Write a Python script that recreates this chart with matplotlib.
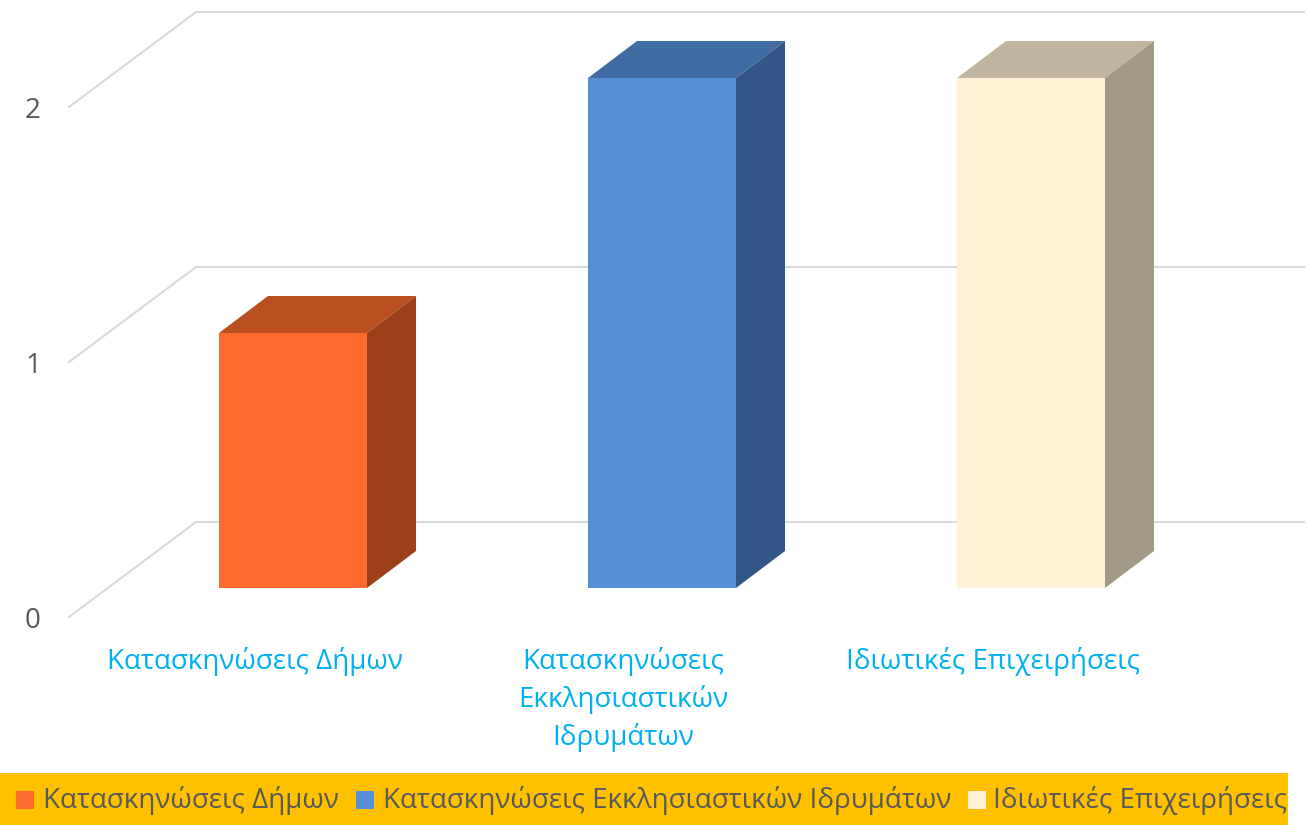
import matplotlib
matplotlib.use('Agg')
import matplotlib.pyplot as plt
from matplotlib.patches import Rectangle, Polygon

plt.rcParams['font.family'] = ['Open Sans', 'DejaVu Sans']

# data
categories = ['Κατασκηνώσεις Δήμων', 'Κατασκηνώσεις Εκκλησιαστικών Ιδρυμάτων', 'Ιδιωτικές Επιχειρήσεις']
axis_labels = ['Κατασκηνώσεις Δήμων', 'Κατασκηνώσεις\nΕκκλησιαστικών\nΙδρυμάτων', 'Ιδιωτικές Επιχειρήσεις']
values = [1, 2, 2]
y_ticks = [0, 1, 2]

# front, top, side colours of each bar
front_colors = ['#FD6A2E', '#578ED8', '#FFF0D6']
top_colors = ['#BC4F20', '#406CA3', '#C1B5A0']
side_colors = ['#9C401B', '#325787', '#A19986']

W, H = 1309, 825
PX_X = 369   # pixels per category
PX_Y = 255   # pixels per value unit
bar_w = 148 / PX_X
dx, dy = 49 / PX_X, 37 / PX_Y             # bar depth
wall_dx, wall_dy = 127 / PX_X, 95 / PX_Y  # side wall depth

fig = plt.figure(figsize=(W / 100, H / 100), dpi=100)
ax = fig.add_axes([0, 0, 1, 1])
ax.set_xlim(-293 / PX_X, (W - 293) / PX_X)
ax.set_ylim((588 - H) / PX_Y, 588 / PX_Y)
ax.axis('off')

# gridlines on the walls
wall_x = -224 / PX_X
floor_y = -29 / PX_Y
right_x = (1304 - 293) / PX_X
for t in y_ticks:
    ax.plot([wall_x, wall_x + wall_dx, right_x], [floor_y + t, floor_y + t + wall_dy, floor_y + t + wall_dy],
            color='#D9D9D9', lw=1.5, solid_joinstyle='miter', zorder=1)
    ax.text(wall_x - 36 / PX_X, floor_y + t - 4 / PX_Y, str(t), color='#595959', fontsize=20,
            ha='center', va='center')

# bars
for i, v in enumerate(values):
    left = i - bar_w / 2
    right = i + bar_w / 2
    ax.bar(i, v, width=bar_w, color=front_colors[i], zorder=3)
    ax.add_patch(Polygon([(left, v), (right, v), (right + dx, v + dy), (left + dx, v + dy)],
                         closed=True, fc=top_colors[i], ec='none', zorder=2))
    ax.add_patch(Polygon([(right, 0), (right + dx, dy), (right + dx, v + dy), (right, v)],
                         closed=True, fc=side_colors[i], ec='none', zorder=2))
    ax.text(i - 38.5 / PX_X, -59 / PX_Y, axis_labels[i],
            color='#00B0F0', fontsize=20, ha='center', va='top', linespacing=1.42)

# legend strip
ax.add_patch(Rectangle((0, 0), 1288 / W, 52 / H, transform=ax.transAxes, fc='#FFC000', ec='none', zorder=1))
swatch_px = [16, 356, 968]
text_px = [43, 383, 993]
for i, name in enumerate(categories):
    ax.add_patch(Rectangle((swatch_px[i] / W, 16 / H), 18 / W, 18 / H,
                           transform=ax.transAxes, fc=front_colors[i], ec='none', zorder=2))
    ax.text(text_px[i] / W, 24.5 / H, name, transform=ax.transAxes, color='#595959',
            fontsize=20, ha='left', va='center', zorder=2)

fig.savefig('out.png', dpi=100)
